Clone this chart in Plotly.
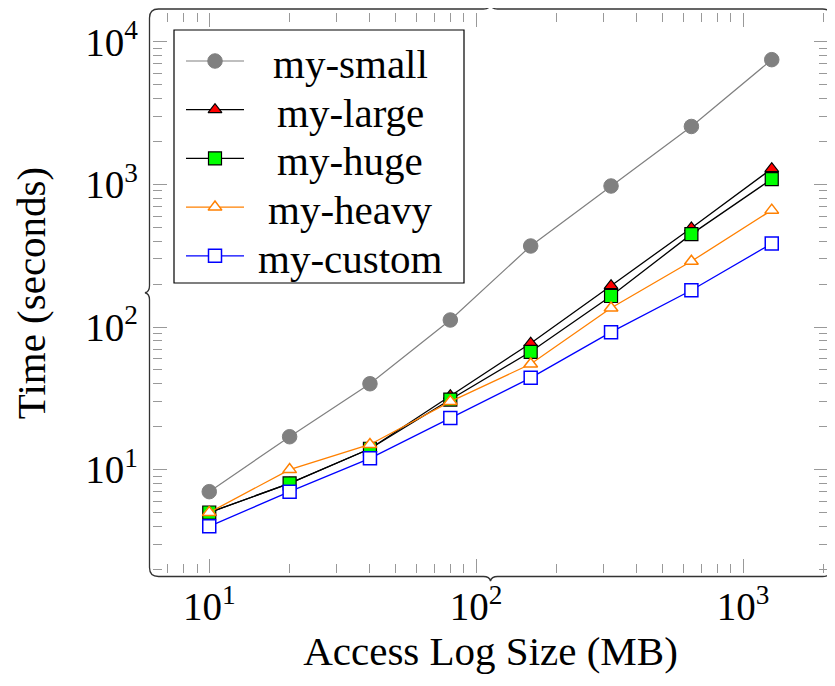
import math
import plotly.graph_objects as go

# ---------------- data ----------------
sizes_mb = [10, 20, 40, 80, 160, 320, 640, 1280]
my_small = [7, 17, 40, 112, 370, 975, 2550, 7500]
my_large = [5, 8, 14, 33, 77, 195, 495, 1290]
my_huge = [5, 8, 14, 31, 67, 165, 448, 1090]
my_heavy = [5, 10, 15, 30, 55, 136, 289, 660]
my_custom = [4, 7, 12, 23, 44, 92, 181, 385]

series_names = ["my-small", "my-large", "my-huge", "my-heavy", "my-custom"]
series_values = [my_small, my_large, my_huge, my_heavy, my_custom]

x_tick_vals = [10, 100, 1000]
x_tick_text = ["10<sup>1</sup>", "10<sup>2</sup>", "10<sup>3</sup>"]
y_tick_vals = [10, 100, 1000, 10000]
y_tick_text = ["10<sup>1</sup>", "10<sup>2</sup>", "10<sup>3</sup>", "10<sup>4</sup>"]
x_title = "Access Log Size (MB)"
y_title = "Time (seconds)"

# ---------------- styles ----------------
FONT = "Liberation Serif, DejaVu Serif, serif"
FS_TICK = 39
FS_TEXT = 41
styles = [
    dict(line=dict(color="#808080", width=1.2),
         marker=dict(symbol="circle", size=14.5, color="#808080", line=dict(color="#808080", width=1))),
    dict(line=dict(color="black", width=1.3),
         marker=dict(symbol="triangle-up", size=12, color="#ff0000", line=dict(color="black", width=1.2))),
    dict(line=dict(color="black", width=1.3),
         marker=dict(symbol="square", size=13, color="#00ff00", line=dict(color="black", width=1.2))),
    dict(line=dict(color="#ff8000", width=1.3),
         marker=dict(symbol="triangle-up", size=12, color="white", line=dict(color="#ff8000", width=1.5))),
    dict(line=dict(color="#0000ff", width=1.3),
         marker=dict(symbol="square", size=13, color="white", line=dict(color="#0000ff", width=1.5))),
]

# page is shown with the browser's default 8px body margin
PAGE_OFF = 8
PAGE_W, PAGE_H = 835, 686
W, H = PAGE_W - PAGE_OFF, PAGE_H - 2 * PAGE_OFF
# axis box in page pixels
AX_L, AX_R, AX_T, AX_B = 153, 828, 13, 573
ML = AX_L - PAGE_OFF
MT = AX_T - PAGE_OFF
MR = W - (AX_R - PAGE_OFF)
MB = H - (AX_B - PAGE_OFF)


def enlarged_log_range(values):
    lo, hi = math.log10(min(values)), math.log10(max(values))
    pad = 0.1 * (hi - lo)
    return [lo - pad, hi + pad]


def minor_ticks(e_lo, e_hi):
    return [m * 10 ** e for e in range(e_lo, e_hi + 1) for m in range(2, 10)]


all_y = [v for s in series_values for v in s]
x_range = enlarged_log_range(sizes_mb)
y_range = enlarged_log_range(all_y)

fig = go.Figure()
for name, vals, st in zip(series_names, series_values, styles):
    fig.add_trace(go.Scatter(x=sizes_mb, y=vals, name=name, mode="lines+markers",
                             line=st["line"], marker=st["marker"], showlegend=False,
                             xaxis="x", yaxis="y"))

# ---------------- hand-drawn legend (page pixel coordinates on overlay axes) ----------------
LEG_X0, LEG_X1, LEG_Y0, LEG_Y1 = 174, 464, 30, 283
LEG_ROW0, LEG_ROW_STEP = 61, 48.7
LEG_LINE_X0, LEG_LINE_X1, LEG_MARK_X, LEG_TEXT_X = 186, 244, 215, 350

annotations = []
for i, (name, st) in enumerate(zip(series_names, styles)):
    ry = LEG_ROW0 + i * LEG_ROW_STEP
    fig.add_trace(go.Scatter(x=[LEG_LINE_X0, LEG_LINE_X1], y=[ry, ry], mode="lines",
                             line=st["line"], showlegend=False, hoverinfo="skip",
                             xaxis="x2", yaxis="y2"))
    fig.add_trace(go.Scatter(x=[LEG_MARK_X], y=[ry], mode="markers",
                             marker=st["marker"], showlegend=False, hoverinfo="skip",
                             xaxis="x2", yaxis="y2"))
    annotations.append(dict(x=LEG_TEXT_X, y=ry + 3, xref="x2", yref="y2", text=name,
                            showarrow=False, xanchor="center", yanchor="middle",
                            font=dict(family=FONT, size=FS_TEXT, color="black")))


# ---------------- brace frame ----------------
def P(px, py):
    return f"{(px - AX_L) / (AX_R - AX_L):.5f},{(AX_B - py) / (AX_B - AX_T):.5f}"


L, R, T, B = AX_L - 3.5, AX_R + 3.5, AX_T - 4, AX_B + 3.5
r = 9      # corner radius
a = 4.5    # brace tip amplitude
hw = 7     # brace tip half-width
mx, my = (L + R) / 2, (T + B) / 2
path = (
    f"M{P(L, T + r)} Q{P(L, T)} {P(L + r, T)} "
    f"L{P(mx - hw, T)} Q{P(mx - 1, T)} {P(mx, T - a)} Q{P(mx + 1, T)} {P(mx + hw, T)} "
    f"L{P(R - r, T)} Q{P(R, T)} {P(R, T + r)} "
    f"L{P(R, my - hw)} Q{P(R, my - 1)} {P(R + a, my)} Q{P(R, my + 1)} {P(R, my + hw)} "
    f"L{P(R, B - r)} Q{P(R, B)} {P(R - r, B)} "
    f"L{P(mx + hw, B)} Q{P(mx + 1, B)} {P(mx, B + a)} Q{P(mx - 1, B)} {P(mx - hw, B)} "
    f"L{P(L + r, B)} Q{P(L, B)} {P(L, B - r)} "
    f"L{P(L, my + hw)} Q{P(L, my + 1)} {P(L - a, my)} Q{P(L, my - 1)} {P(L, my - hw)} Z"
)

shapes = [
    dict(type="rect", xref="x2", yref="y2", x0=LEG_X0, x1=LEG_X1, y0=LEG_Y0, y1=LEG_Y1,
         line=dict(color="black", width=1.2), fillcolor="white", layer="below"),
    dict(type="path", xref="paper", yref="paper", path=path,
         line=dict(color="#333333", width=1.3), layer="above"),
]

tick_color = "#999999"
axis_common = dict(
    type="log", showgrid=False, zeroline=False, showline=False,
    ticks="inside", ticklen=14, tickwidth=1, tickcolor=tick_color, mirror="ticks",
    tickmode="array",
    tickfont=dict(family=FONT, size=FS_TICK, color="black"),
    minor=dict(ticks="inside", ticklen=9, tickwidth=1, tickcolor=tick_color, showgrid=False),
)

fig.update_layout(
    width=W, height=H,
    margin=dict(l=ML, r=MR, t=MT, b=MB, autoexpand=False),
    paper_bgcolor="white", plot_bgcolor="white",
    showlegend=False,
    xaxis=dict(axis_common, range=x_range, tickvals=x_tick_vals, ticktext=x_tick_text,
               ticklabelstandoff=7,
               minor=dict(axis_common["minor"], tickvals=minor_ticks(0, 3)),
               title=dict(text=x_title, font=dict(family=FONT, size=FS_TEXT, color="black"), standoff=5)),
    yaxis=dict(axis_common, range=y_range, tickvals=y_tick_vals, ticktext=y_tick_text,
               ticklabelstandoff=14,
               minor=dict(axis_common["minor"], tickvals=minor_ticks(0, 4)),
               title=dict(text=y_title, font=dict(family=FONT, size=FS_TEXT, color="black"), standoff=33)),
    xaxis2=dict(overlaying="x", range=[AX_L, AX_R], visible=False, fixedrange=True),
    yaxis2=dict(overlaying="y", range=[AX_B, AX_T], visible=False, fixedrange=True),
    shapes=shapes,
    annotations=annotations,
)

fig.write_html("out.html")
